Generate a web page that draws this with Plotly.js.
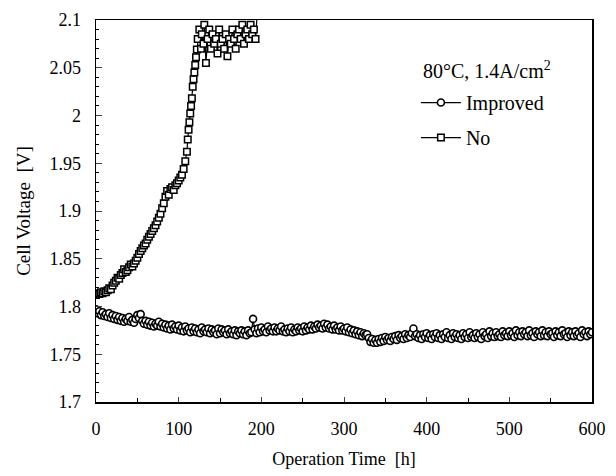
<!DOCTYPE html>
<html>
<head>
<meta charset="utf-8">
<script src="https://cdn.plot.ly/plotly-3.0.1.min.js"></script>
<style>html,body{margin:0;padding:0;background:#fff;}#chart{width:616px;height:476px;}</style>
</head>
<body>
<div id="chart"></div>
<script>
// Improved (circles): operation time [h] and cell voltage [V]
var improvedTime = [0,2,4,6,8,10,12,14,16,18,20,22,24,26,28,30,32,34,36,38,40,42,44,46,48,50,52,54,56,58,60,62,64,66,68,70,72,74,76,78,80,82,84,86,88,90,92,94,96,98,100,102,104,106,108,110,112,114,116,118,120,122,124,126,128,130,132,134,136,138,140,142,144,146,148,150,152,154,156,158,160,162,164,166,168,170,172,174,176,178,180,182,184,186,188,190,192,194,196,198,200,202,204,206,208,210,212,214,216,218,220,222,224,226,228,230,232,234,236,238,240,242,244,246,248,250,252,254,256,258,260,262,264,266,268,270,272,274,276,278,280,282,284,286,288,290,292,294,296,298,300,302,304,306,308,310,312,314,316,318,320,322,324,326,328,330,332,334,336,338,340,342,344,346,348,350,352,354,356,358,360,362,364,366,368,370,372,374,376,378,380,382,384,386,388,390,392,394,396,398,400,402,404,406,408,410,412,414,416,418,420,422,424,426,428,430,432,434,436,438,440,442,444,446,448,450,452,454,456,458,460,462,464,466,468,470,472,474,476,478,480,482,484,486,488,490,492,494,496,498,500,502,504,506,508,510,512,514,516,518,520,522,524,526,528,530,532,534,536,538,540,542,544,546,548,550,552,554,556,558,560,562,564,566,568,570,572,574,576,578,580,582,584,586,588,590,592,594,596,598,600];
var improvedVoltage = [
  1.797,1.793,1.795,1.791,1.794,1.790,1.792,1.789,1.793,1.788,
  1.791,1.787,1.790,1.786,1.789,1.785,1.788,1.784,1.787,1.785,
  1.789,1.784,1.786,1.783,1.787,1.791,1.788,1.792,1.785,1.782,
  1.785,1.781,1.784,1.780,1.783,1.779,1.782,1.780,1.784,1.779,
  1.782,1.778,1.781,1.777,1.780,1.776,1.781,1.777,1.779,1.776,
  1.780,1.775,1.778,1.774,1.779,1.775,1.777,1.773,1.778,1.774,
  1.777,1.773,1.776,1.772,1.778,1.774,1.776,1.773,1.777,1.772,
  1.776,1.773,1.775,1.771,1.777,1.772,1.776,1.773,1.775,1.771,
  1.776,1.772,1.774,1.771,1.775,1.770,1.774,1.772,1.775,1.771,
  1.774,1.770,1.775,1.772,1.773,1.787,1.776,1.772,1.777,1.773,
  1.778,1.774,1.776,1.773,1.779,1.775,1.777,1.774,1.778,1.774,
  1.777,1.775,1.779,1.774,1.776,1.773,1.777,1.774,1.778,1.773,
  1.776,1.774,1.778,1.775,1.777,1.774,1.779,1.775,1.778,1.776,
  1.780,1.776,1.779,1.777,1.781,1.778,1.780,1.777,1.782,1.778,
  1.781,1.777,1.779,1.776,1.780,1.776,1.778,1.775,1.779,1.775,
  1.777,1.774,1.778,1.773,1.776,1.772,1.775,1.771,1.774,1.770,
  1.773,1.769,1.772,1.770,1.771,1.767,1.763,1.766,1.762,1.765,
  1.762,1.766,1.763,1.767,1.764,1.768,1.765,1.767,1.764,1.768,
  1.766,1.769,1.765,1.770,1.767,1.769,1.766,1.771,1.767,1.770,
  1.768,1.772,1.777,1.769,1.771,1.767,1.770,1.766,1.771,1.768,
  1.772,1.767,1.770,1.766,1.771,1.768,1.772,1.767,1.770,1.766,
  1.771,1.768,1.773,1.767,1.770,1.766,1.772,1.768,1.771,1.767,
  1.770,1.766,1.772,1.768,1.771,1.767,1.773,1.768,1.770,1.767,
  1.772,1.768,1.771,1.766,1.773,1.769,1.771,1.767,1.774,1.769,
  1.772,1.768,1.773,1.769,1.771,1.768,1.774,1.770,1.772,1.769,
  1.774,1.770,1.772,1.768,1.775,1.770,1.773,1.769,1.774,1.771,
  1.773,1.769,1.775,1.770,1.772,1.768,1.774,1.771,1.773,1.769,
  1.775,1.770,1.773,1.769,1.774,1.771,1.772,1.768,1.774,1.770,
  1.773,1.769,1.775,1.771,1.772,1.768,1.774,1.770,1.773,1.769,
  1.774,1.770,1.772,1.768,1.775,1.771,1.773,1.769,1.774,1.771,
  1.773];

// No (squares)
var noTime = [0,2,4,6,8,10,12,14,16,18,20,22,24,26,28,30,32,34,36,38,40,42,44,46,48,50,52,54,56,58,60,62,64,66,68,70,72,74,76,78,80,82,84,86,88,90,92,94,96,98,100,102,104,106,108,110,111,112,113,114,115,116,117,118,119,120,121,122,123,125,127,128,130,131,133,135,137,139,141,143,145,147,149,151,153,155,157,159,161,163,165,167,169,171,173,175,177,179,181,183,185,187,189,191,193,196];
var noVoltage = [1.812,1.814,1.813,1.815,1.814,1.816,1.815,1.817,1.819,1.818,1.822,1.825,1.827,1.830,1.829,1.833,1.835,1.839,1.836,1.838,1.841,1.844,1.842,1.845,1.848,1.851,1.855,1.858,1.861,1.864,1.866,1.870,1.873,1.876,1.879,1.882,1.885,1.889,1.893,1.897,1.903,1.908,1.915,1.921,1.917,1.923,1.925,1.922,1.927,1.929,1.932,1.935,1.938,1.944,1.952,1.962,1.975,1.985,1.993,2.002,2.010,2.018,2.030,2.038,2.045,2.053,2.061,2.069,2.080,2.090,2.070,2.085,2.075,2.095,2.055,2.080,2.090,2.070,2.085,2.075,2.080,2.065,2.090,2.075,2.080,2.070,2.085,2.062,2.080,2.075,2.090,2.080,2.070,2.085,2.090,2.080,2.095,2.075,2.085,2.090,2.080,2.095,2.085,2.090,2.080,2.120];

var yTickVals = [1.7,1.75,1.8,1.85,1.9,1.95,2,2.05,2.1];
var yTickText = ["1.7","1.75","1.8","1.85","1.9","1.95","2","2.05","2.1"];
var xTickVals = [0,100,200,300,400,500,600];

var serif = "Liberation Serif";

var traces = [
  {
    x: improvedTime, y: improvedVoltage, name: "Improved",
    type: "scatter", mode: "lines+markers", legendgroup: "a",
    line: {color: "#000", width: 1.2},
    marker: {symbol: "circle", size: 7, color: "#fff", line: {color: "#000", width: 1.6}}
  },
  {
    x: noTime, y: noVoltage, name: "No",
    type: "scatter", mode: "lines+markers", legendgroup: "b",
    line: {color: "#000", width: 1.2},
    marker: {symbol: "square", size: 6.5, color: "#fff", line: {color: "#000", width: 1.5}}
  }
];

var layout = {
  width: 616, height: 476,
  margin: {l: 96, r: 24, t: 20, b: 74},
  paper_bgcolor: "#fff", plot_bgcolor: "#fff",
  font: {family: serif, size: 18, color: "#000"},
  showlegend: true,
  legend: {
    x: 0.645, y: 0.835, xanchor: "left", yanchor: "top",
    bgcolor: "rgba(0,0,0,0)", borderwidth: 0,
    font: {family: serif, size: 20, color: "#000"},
    traceorder: "grouped", tracegroupgap: 6, itemwidth: 40
  },
  xaxis: {
    range: [0, 600], tickvals: xTickVals, ticks: "inside", ticklen: 5,
    showline: true, linecolor: "#000", linewidth: 1.5, mirror: true,
    showgrid: false, zeroline: false, ticklabelstandoff: 10,
    minor: {dtick: 50, ticks: "inside", ticklen: 4, tickcolor: "#000"},
    tickfont: {family: serif, size: 18},
    title: {text: "Operation Time  [h]", font: {family: serif, size: 18}, standoff: 14}
  },
  yaxis: {
    range: [1.7, 2.1], tickvals: yTickVals, ticktext: yTickText, ticks: "inside", ticklen: 6,
    showline: true, linecolor: "#000", linewidth: 1.5, mirror: true,
    showgrid: false, zeroline: false, ticklabelstandoff: 10,
    minor: {dtick: 0.01, ticks: "inside", ticklen: 3, tickcolor: "#000"},
    tickfont: {family: serif, size: 18},
    title: {text: "Cell Voltage  [V]", font: {family: serif, size: 19}, standoff: 14}
  },
  annotations: [
    {xref: "paper", yref: "paper", x: 0.655, y: 0.87, xanchor: "left", yanchor: "middle",
     text: "80°C, 1.4A/cm<sup>2</sup>", showarrow: false,
     font: {family: serif, size: 20, color: "#000"}}
  ]
};

Plotly.newPlot("chart", traces, layout, {displayModeBar: false, staticPlot: true});
</script>
</body>
</html>
